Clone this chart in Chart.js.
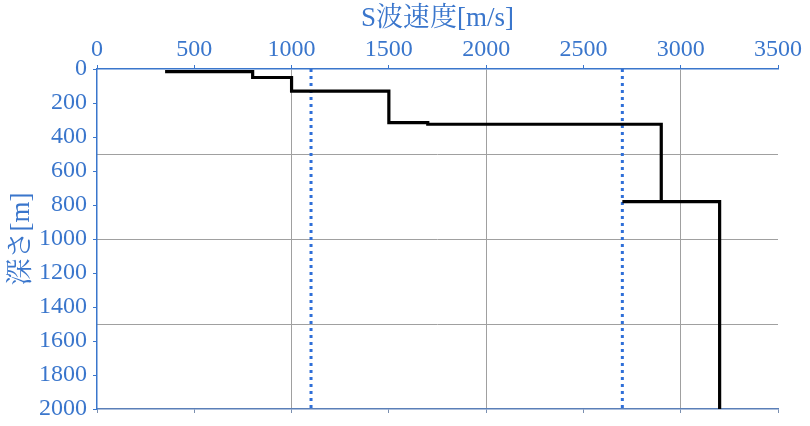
<!DOCTYPE html>
<html><head><meta charset="utf-8">
<script src="https://cdn.jsdelivr.net/npm/chart.js@4"></script>
<style>html,body{margin:0;padding:0;background:#fff;}#wrap{width:810px;height:426px;}</style>
</head><body><div id="wrap"><canvas id="c" width="810" height="426"></canvas></div>
<script>
const velocity = [350, 800, 800, 1000, 1000, 1500, 1500, 1700, 1700, 2900, 2900, 2700, 3200, 3200];
const depth    = [15, 15, 50, 50, 130, 130, 315, 315, 325, 325, 780, 780, 780, 2000];
const refVel1 = [1100, 1100];
const refVel2 = [2700, 2700];
const refDepth = [0, 2000];
const xTitle = 'S波速度[m/s]';
const yTitle = '深さ[m]';

const blue = '#3a76cc';
const font = "'Liberation Serif','Noto Serif CJK JP','Noto Sans CJK JP',serif";
const pts = (xs, ys) => xs.map((x, i) => ({x, y: ys[i]}));

new Chart(document.getElementById('c'), {
  type: 'scatter',
  data: { datasets: [
    { data: pts(velocity, depth), showLine: true, borderColor: '#000', borderWidth: 3.2, pointRadius: 0, tension: 0, xAxisID: 'x', yAxisID: 'y' },
    { data: pts(refVel1, refDepth), showLine: true, borderColor: '#2f6fd8', borderWidth: 3, borderDash: [3, 4], pointRadius: 0, xAxisID: 'x', yAxisID: 'y' },
    { data: pts(refVel2, refDepth), showLine: true, borderColor: '#2f6fd8', borderWidth: 3, borderDash: [3, 4], pointRadius: 0, xAxisID: 'x', yAxisID: 'y' }
  ]},
  options: {
    responsive: false, animation: false,
    layout: { padding: { left: 0, right: 32, top: 0, bottom: 0 } },
    plugins: { legend: { display: false }, tooltip: { enabled: false } },
    scales: {
      x: {
        position: 'top', min: 0, max: 3500,
        ticks: { stepSize: 500, color: blue, font: { family: font, size: 24 }, padding: 1, callback: v => String(v) },
        grid: {
          color: c => (c.tick && c.tick.value % 1000 === 0 && c.tick.value > 0 && c.tick.value < 3500) ? '#a0a0a0' : 'rgba(0,0,0,0)',
          tickColor: blue, tickLength: 4, lineWidth: 1
        },
        border: { color: blue, width: 1.5 },
        title: { display: true, text: xTitle, color: blue, font: { family: font, size: 27 }, padding: { top: 3, bottom: 0 } },
        afterFit: s => { s.height = 69; }
      },
      x2: {
        position: 'bottom', min: 0, max: 3500,
        ticks: { stepSize: 500, display: false },
        grid: { drawOnChartArea: false, tickColor: '#7a8fb0', tickLength: 4 },
        border: { color: '#5a7fb8', width: 1.5 },
        afterFit: s => { s.height = 17; }
      },
      y: {
        position: 'left', reverse: true, min: 0, max: 2000,
        ticks: { stepSize: 200, color: blue, font: { family: font, size: 24 }, padding: 6, callback: v => String(v) },
        grid: { color: 'rgba(0,0,0,0)', tickColor: blue, tickLength: 4 },
        border: { color: blue, width: 1.5 },
        title: { display: true, text: yTitle, color: blue, font: { family: font, size: 27 }, padding: { top: 6, bottom: 0 } },
        afterFit: s => { s.width = 97; s.paddingTop = 0; s.paddingBottom = 0; }
      },
      y2: {
        position: 'right', reverse: true, min: 0, max: 2000,
        ticks: { stepSize: 500, display: false },
        grid: { color: c => (c.tick && c.tick.value > 0 && c.tick.value < 2000) ? '#a0a0a0' : 'rgba(0,0,0,0)', drawTicks: false },
        border: { display: false },
        afterFit: s => { s.width = 0; }
      }
    }
  }
});
</script></body></html>
